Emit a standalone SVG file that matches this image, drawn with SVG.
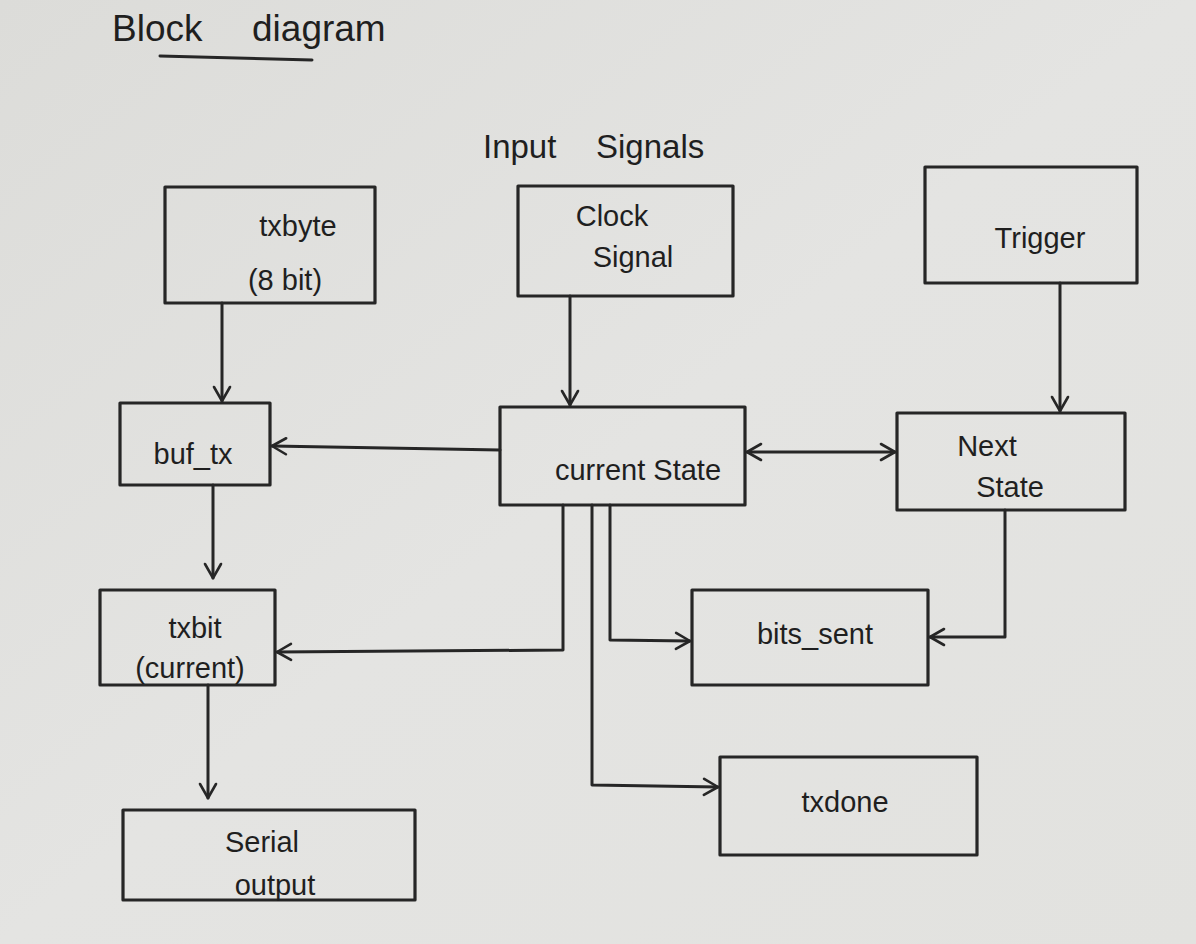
<svg xmlns="http://www.w3.org/2000/svg" width="1196" height="944" viewBox="0 0 1196 944">
<defs>
<linearGradient id="paper" x1="0" y1="0" x2="1" y2="1">
<stop offset="0" stop-color="#dcdcd9"/>
<stop offset="0.5" stop-color="#e4e4e2"/>
<stop offset="1" stop-color="#e2e2df"/>
</linearGradient>
<marker id="arr" viewBox="0 0 20 20" refX="18" refY="10" markerWidth="20" markerHeight="20" markerUnits="userSpaceOnUse" orient="auto-start-reverse">
<path d="M4,2 L18,10 L4,18" fill="none" stroke="#262626" stroke-width="2.6" stroke-linecap="round" stroke-linejoin="round"/>
</marker>
<style>
.box{fill:none;stroke:#262626;stroke-width:3.2;stroke-linejoin:round}
.ln{fill:none;stroke:#262626;stroke-width:3;stroke-linecap:round;stroke-linejoin:round}
text{font-family:"Liberation Sans","DejaVu Sans",sans-serif;fill:#1f1f1f;font-size:29px;text-anchor:middle}
.title{font-size:37px;text-anchor:start}
.lbl{font-size:33px;text-anchor:start}
</style>
</defs>
<rect width="1196" height="944" fill="url(#paper)"/>
<g id="title">
<text class="title" y="41"><tspan x="112">Block </tspan><tspan x="252">diagram</tspan></text>
<path class="ln" d="M160,56 L312,60"/>
</g>
<g id="label-input-signals">
<text class="lbl" y="158"><tspan x="483">Input </tspan><tspan x="596">Signals</tspan></text>
</g>
<g id="node-txbyte">
<rect class="box" x="165" y="187" width="210" height="116"/>
<text x="298" y="236">txbyte</text>
<text x="285" y="290">(8 bit)</text>
</g>
<g id="node-clock">
<rect class="box" x="518" y="186" width="215" height="110"/>
<text x="612" y="226">Clock</text>
<text x="633" y="267">Signal</text>
</g>
<g id="node-trigger">
<rect class="box" x="925" y="167" width="212" height="116"/>
<text x="1040" y="248">Trigger</text>
</g>
<g id="node-buf-tx">
<rect class="box" x="120" y="403" width="150" height="82"/>
<text x="193" y="464">buf_tx</text>
</g>
<g id="node-current-state">
<rect class="box" x="500" y="407" width="245" height="98"/>
<text x="638" y="480">current State</text>
</g>
<g id="node-next-state">
<rect class="box" x="897" y="413" width="228" height="97"/>
<text x="987" y="456">Next</text>
<text x="1010" y="497">State</text>
</g>
<g id="node-txbit">
<rect class="box" x="100" y="590" width="175" height="95"/>
<text x="195" y="638">txbit</text>
<text x="190" y="678">(current)</text>
</g>
<g id="node-bits-sent">
<rect class="box" x="692" y="590" width="236" height="95"/>
<text x="815" y="644">bits_sent</text>
</g>
<g id="node-txdone">
<rect class="box" x="720" y="757" width="257" height="98"/>
<text x="845" y="812">txdone</text>
</g>
<g id="node-serial-output">
<rect class="box" x="123" y="810" width="292" height="90"/>
<text x="262" y="852">Serial</text>
<text x="275" y="895">output</text>
</g>
<g id="connectors">
<path class="ln" marker-end="url(#arr)" d="M222,303 L222,401"/>
<path class="ln" marker-end="url(#arr)" d="M570,296 L570,405"/>
<path class="ln" marker-end="url(#arr)" d="M1060,283 L1060,411"/>
<path class="ln" marker-end="url(#arr)" d="M500,450 L272,446"/>
<path class="ln" marker-start="url(#arr)" marker-end="url(#arr)" d="M747,452 L895,452"/>
<path class="ln" marker-end="url(#arr)" d="M213,485 L213,578"/>
<path class="ln" marker-end="url(#arr)" d="M563,505 L563,650 L277,652"/>
<path class="ln" marker-end="url(#arr)" d="M610,505 L610,640 L690,641"/>
<path class="ln" marker-end="url(#arr)" d="M592,505 L592,785 L718,787"/>
<path class="ln" marker-end="url(#arr)" d="M1005,510 L1005,637 L930,637"/>
<path class="ln" marker-end="url(#arr)" d="M208,685 L208,798"/>
</g>
</svg>
